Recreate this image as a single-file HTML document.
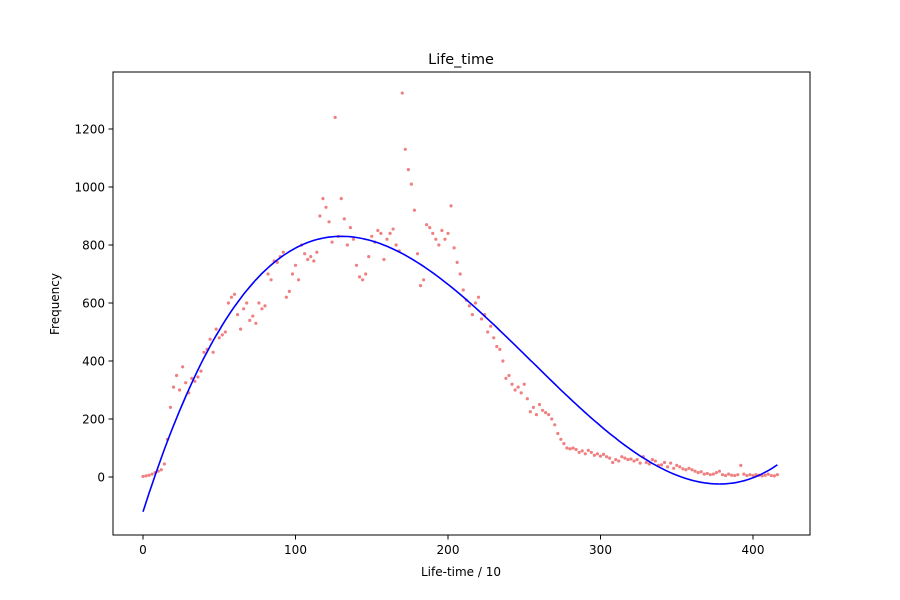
<!DOCTYPE html>
<html><head><meta charset="utf-8"><style>
body{margin:0;background:#fff;}
svg{display:block;font-family:"DejaVu Sans","Liberation Sans",sans-serif;}
</style></head><body>
<svg id="chart" width="900" height="600">
<rect x="0" y="0" width="900" height="600" fill="#fff"/>
<text x="461" y="64" text-anchor="middle" font-size="14.4">Life_time</text>
<text x="461" y="576" text-anchor="middle" font-size="12">Life-time / 10</text>
<text x="59" y="304" text-anchor="middle" font-size="12" transform="rotate(-90 59 304)">Frequency</text>
<g id="ticks"></g>
<g id="points"></g>
<path id="fit" fill="none" stroke="#0000ff" stroke-width="1.6"/>
<rect x="113" y="72" width="697" height="463" fill="none" stroke="#000" stroke-width="1"/>
</svg>
<script>
const xStart = 0;
const xStep = 2;
const freqValues = [
2,4,6,10,15,20,25,45,130,240,
310,350,300,380,325,290,340,330,345,365,
430,440,475,430,510,480,490,500,600,620,
630,560,510,580,600,540,555,530,600,580,
590,700,680,745,740,760,775,620,640,700,
730,680,800,770,750,760,745,775,900,960,
930,880,810,1240,830,960,890,800,860,820,
730,690,680,700,760,830,810,850,840,750,
820,840,855,800,780,1324,1130,1060,1010,920,
770,660,680,870,860,840,820,800,850,820,
840,935,790,740,700,645,610,590,560,600,
620,545,560,500,520,480,450,440,400,340,
350,320,300,310,290,320,270,225,240,215,
250,230,222,215,200,180,150,130,115,100,
97,100,95,85,90,80,92,85,75,80,
72,78,70,65,50,60,55,70,65,60,
62,55,60,48,70,50,45,60,55,40,
42,50,35,48,30,40,35,28,25,30,
25,20,15,18,10,12,8,10,15,20,
8,5,10,6,5,8,40,10,5,8,
5,8,6,4,6,10,5,4,8
];
const fitCoeffs = [-120, 16.5067, -0.085322, 0.00011197]; // c0 + c1 x + c2 x^2 + c3 x^3
const xTicks = [0,100,200,300,400];
const yTicks = [0,200,400,600,800,1000,1200];

const NS = "http://www.w3.org/2000/svg";
function sx(v){ return 143 + v*1.525; }
function sy(v){ return 477 - v*0.29; }

const tg = document.getElementById('ticks');
xTicks.forEach(t=>{
  const l=document.createElementNS(NS,'line');
  l.setAttribute('x1',sx(t));l.setAttribute('x2',sx(t));l.setAttribute('y1',535);l.setAttribute('y2',539.5);
  l.setAttribute('stroke','#000');
  
  
  tg.appendChild(l);
  const tx=document.createElementNS(NS,'text');
  tx.setAttribute('x',sx(t));tx.setAttribute('y',554);tx.setAttribute('text-anchor','middle');tx.setAttribute('font-size','12');
  tx.textContent=t;
  
  
  tg.appendChild(tx);
});
yTicks.forEach(t=>{
  const l=document.createElementNS(NS,'line');
  l.setAttribute('x1',108.5);l.setAttribute('x2',113);l.setAttribute('y1',sy(t));l.setAttribute('y2',sy(t));
  l.setAttribute('stroke','#000');
  
  
  tg.appendChild(l);
  const tx=document.createElementNS(NS,'text');
  tx.setAttribute('x',105);tx.setAttribute('y',sy(t)+4.5);tx.setAttribute('text-anchor','end');tx.setAttribute('font-size','12');
  tx.textContent=t;
  
  
  tg.appendChild(tx);
});

const pg=document.getElementById('points');
freqValues.forEach((v,i)=>{
  const c=document.createElementNS(NS,'circle');
  c.setAttribute('cx',sx(xStart+i*xStep));c.setAttribute('cy',sy(v));c.setAttribute('r',1.6);
  c.setAttribute('fill','#f08080');
  
  
  pg.appendChild(c);
});

let d='';
for(let x=0;x<=416;x+=2){
  const y=fitCoeffs[0]+fitCoeffs[1]*x+fitCoeffs[2]*x*x+fitCoeffs[3]*x*x*x;
  d+=(x===0?'M':'L')+sx(x).toFixed(1)+','+sy(y).toFixed(1);
}
document.getElementById('fit').setAttribute('d',d);
</script>
</body></html>
